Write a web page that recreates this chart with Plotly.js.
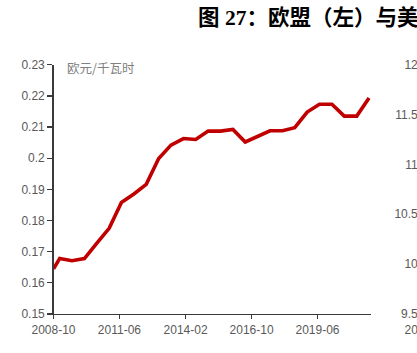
<!DOCTYPE html>
<html>
<head>
<meta charset="utf-8">
<script src="https://cdn.plot.ly/plotly-3.0.1.min.js"></script>
<style>
html,body{margin:0;padding:0;overflow:hidden;background:#fff;width:417px;height:353px;}
#chart{width:834px;height:353px;}
</style>
</head>
<body>
<div id="chart"></div>
<script>
// EU household electricity price (EUR/kWh), semi-annual
var euDates = ["2008-10-01","2008-12-31","2009-06-30","2009-12-31","2010-06-30","2010-12-31",
  "2011-06-30","2011-12-31","2012-06-30","2012-12-31","2013-06-30","2013-12-31",
  "2014-06-30","2014-12-31","2015-06-30","2015-12-31","2016-06-30","2016-12-31",
  "2017-06-30","2017-12-31","2018-06-30","2018-12-31","2019-06-30","2019-12-31",
  "2020-06-30","2020-12-31","2021-06-30"];
var euPrice = [0.1645,0.1678,0.1671,0.1678,0.1727,0.1775,
  0.1858,0.1885,0.1916,0.1999,0.2042,0.2063,
  0.2060,0.2087,0.2087,0.2092,0.2052,0.2070,
  0.2088,0.2088,0.2098,0.2148,0.2173,0.2173,
  0.2135,0.2135,0.2193];
// US panel (right) lies outside the visible window: only its axes show
var usDates = [];
var usPrice = [];
var xTickVals = ["2008-10-01","2011-06-01","2014-02-01","2016-10-01","2019-06-01"];
var xTickText = ["2008-10","2011-06","2014-02","2016-10","2019-06"];
var titleText = "图 27：欧盟（左）与美国（右）居民电价";
var unitText = "欧元/千瓦时";

var W = 834, H = 353;
var tickFont = {family:"Liberation Sans, Arial, sans-serif", size:12, color:"#595959"};
var axLine = "#3a3a3a";

var data = [{
  x: euDates, y: euPrice, type: "scatter", mode: "lines",
  line: {color: "#C00000", width: 3.6},
  xaxis: "x", yaxis: "y", showlegend: false, hoverinfo: "skip"
},{
  x: usDates, y: usPrice, type: "scatter", mode: "lines",
  line: {color: "#C00000", width: 3.6},
  xaxis: "x2", yaxis: "y2", showlegend: false, hoverinfo: "skip"
}];

var yDom = [(H-314)/H, (H-64.7)/H];
function xAx(dom, anchor){
  return {
    type: "date", domain: dom, anchor: anchor,
    range: ["2008-10-01","2021-07-25"],
    tickmode: "array", tickvals: xTickVals, ticktext: xTickText,
    ticks: "outside", ticklen: 4, tickwidth: 1.3, tickcolor: axLine,
    showline: true, linecolor: axLine, linewidth: 1.3,
    showgrid: false, zeroline: false, tickfont: tickFont, fixedrange: true
  };
}
function yAx(rng, dt, anchor){
  return {
    domain: yDom, anchor: anchor,
    range: rng, dtick: dt, tick0: rng[0],
    ticks: "outside", ticklen: 5, tickwidth: 1.3, tickcolor: axLine,
    showline: true, linecolor: axLine, linewidth: 1.3,
    showgrid: false, zeroline: false, tickfont: tickFont, fixedrange: true
  };
}
var layout = {
  width: W, height: H,
  margin: {l:0, r:0, t:0, b:0},
  paper_bgcolor: "#fff", plot_bgcolor: "#fff",
  showlegend: false,
  xaxis: xAx([53.5/W, 370.7/W], "y"),
  yaxis: yAx([0.15, 0.23], 0.01, "x"),
  xaxis2: xAx([426.5/W, 0.95], "y2"),
  yaxis2: yAx([9.5, 12], 0.5, "x2"),
  annotations: [
    {text: "<b>" + titleText + "</b>", xref: "paper", yref: "paper",
     x: 196/W, y: 1 - 17.5/H, xanchor: "left", yanchor: "middle", showarrow: false,
     font: {family: "Liberation Serif, Noto Sans CJK SC, serif", size: 21.5, color: "#000"}},
    {text: unitText, xref: "paper", yref: "paper",
     x: 65/W, y: 1 - 67/H, xanchor: "left", yanchor: "middle", showarrow: false,
     font: {family: "Noto Sans CJK SC, sans-serif", size: 12.5, color: "#808080"}}
  ]
};

Plotly.newPlot("chart", data, layout, {displayModeBar: false, staticPlot: true});
</script>
</body>
</html>
